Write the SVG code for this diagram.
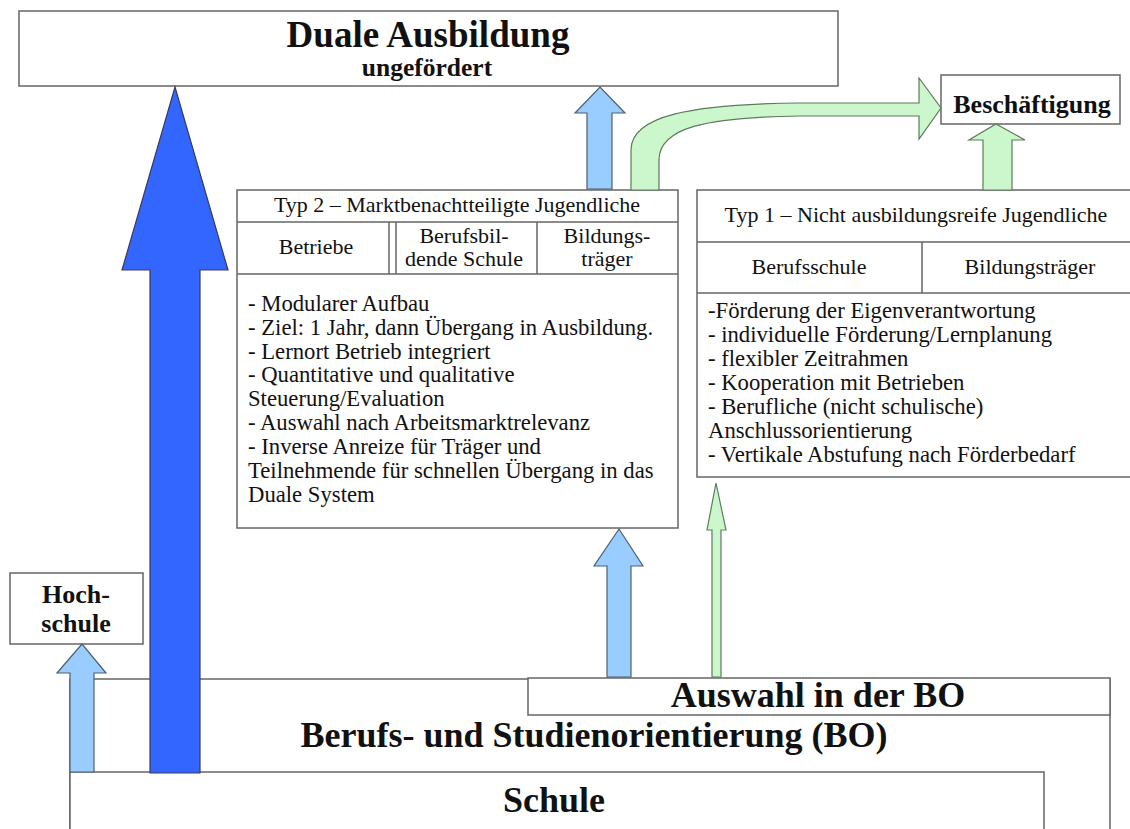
<svg xmlns="http://www.w3.org/2000/svg" width="1130" height="829" viewBox="0 0 1130 829">
<style>
text{font-family:"Liberation Serif","Times New Roman",serif;fill:#111}
.box{fill:#fff;stroke:#666;stroke-width:1.5}
.ln{stroke:#666;stroke-width:1.5;fill:none}
.b{font-weight:bold}
.c{text-anchor:middle}
.r{font-size:22px}
.t{font-size:22.7px}
.big{font-size:36px;font-weight:bold;text-anchor:middle}
.dk{fill:#3366ff;stroke:#3a3a5a;stroke-width:1.2}
.lb{fill:#99ccff;stroke:#4f5f70;stroke-width:1.2}
.lg{fill:#ccf7cc;stroke:#5d7a5d;stroke-width:1.2}
</style>
<rect width="1130" height="829" fill="#fff"/>

<g id="bo">
<rect class="box" x="70" y="679" width="1040" height="200"/>
<text class="big" x="594" y="747">Berufs- und Studienorientierung (BO)</text>
</g>
<g id="schule">
<rect class="box" x="70" y="772" width="974" height="100"/>
<text class="big" x="554" y="812">Schule</text>
</g>
<g id="auswahl">
<rect class="box" x="528" y="678" width="582" height="37"/>
<text class="big" x="818" y="707">Auswahl in der BO</text>
</g>

<g id="duale">
<rect class="box" x="19" y="11" width="819" height="75"/>
<text class="b c" x="428" y="47" font-size="37">Duale Ausbildung</text>
<text class="b c" x="427" y="76" font-size="25.5">ungefördert</text>
</g>

<g id="beschaeftigung">
<rect class="box" x="941" y="75" width="179" height="49"/>
<text class="b c" x="1032" y="113" font-size="26">Beschäftigung</text>
</g>

<g id="hochschule">
<rect class="box" x="10" y="573" width="133" height="71"/>
<text class="b c" x="76" y="603" font-size="26">Hoch-</text>
<text class="b c" x="76" y="632" font-size="26">schule</text>
</g>

<g id="typ2">
<rect class="box" x="237" y="190" width="441" height="338"/>
<line class="ln" x1="237" y1="222" x2="678" y2="222"/>
<line class="ln" x1="237" y1="274" x2="678" y2="274"/>
<line class="ln" x1="389" y1="222" x2="389" y2="274"/>
<line class="ln" x1="396" y1="222" x2="396" y2="274"/>
<line class="ln" x1="537" y1="222" x2="537" y2="274"/>
<text class="r c" x="457" y="212">Typ 2 – Marktbenachtteiligte Jugendliche</text>
<text class="r c" x="316" y="254">Betriebe</text>
<text class="r c" x="464" y="243">Berufsbil-</text>
<text class="r c" x="464" y="266">dende Schule</text>
<text class="r c" x="607" y="243">Bildungs-</text>
<text class="r c" x="607" y="266">träger</text>
<text class="t" x="248" y="311">- Modularer Aufbau</text>
<text class="t" x="248" y="335">- Ziel: 1 Jahr, dann Übergang in Ausbildung.</text>
<text class="t" x="248" y="359">- Lernort Betrieb integriert</text>
<text class="t" x="248" y="382">- Quantitative und qualitative</text>
<text class="t" x="248" y="406">Steuerung/Evaluation</text>
<text class="t" x="248" y="430">- Auswahl nach Arbeitsmarktrelevanz</text>
<text class="t" x="248" y="454">- Inverse Anreize für Träger und</text>
<text class="t" x="248" y="478">Teilnehmende für schnellen Übergang in das</text>
<text class="t" x="248" y="502">Duale System</text>
</g>

<g id="typ1">
<rect class="box" x="697" y="190" width="445" height="287"/>
<line class="ln" x1="697" y1="242" x2="1142" y2="242"/>
<line class="ln" x1="697" y1="293" x2="1142" y2="293"/>
<line class="ln" x1="922" y1="242" x2="922" y2="293"/>
<text class="r c" x="916" y="222">Typ 1 – Nicht ausbildungsreife Jugendliche</text>
<text class="r c" x="809" y="274">Berufsschule</text>
<text class="r c" x="1030" y="274">Bildungsträger</text>
<text class="t" x="708" y="318">-Förderung der Eigenverantwortung</text>
<text class="t" x="708" y="342">- individuelle Förderung/Lernplanung</text>
<text class="t" x="708" y="366">- flexibler Zeitrahmen</text>
<text class="t" x="708" y="390">- Kooperation mit Betrieben</text>
<text class="t" x="708" y="414">- Berufliche (nicht schulische)</text>
<text class="t" x="708" y="438">Anschlussorientierung</text>
<text class="t" x="708" y="462">- Vertikale Abstufung nach Förderbedarf</text>
</g>

<g id="connectors">
<path class="lb" d="M70,772 L70,673 L57,673 L82,644 L106,673 L94,673 L94,772 Z"/>
<path class="dk" d="M150,773 L150,270 L122,270 L175,87 L228,270 L200,270 L200,773 Z"/>
<path class="lb" d="M587,189 L587,113 L575,113 L600,87 L625,113 L612,113 L612,189 Z"/>
<path class="lb" d="M607,677 L607,566 L594,566 L619,529 L643,566 L631,566 L631,677 Z"/>
<path class="lg" d="M712,677 L712,530 L707,530 L716,483 L726,530 L721,530 L721,677 Z"/>
<path class="lg" d="M983,190 L983,140 L969,140 L996,124 L1025,140 L1012,140 L1012,190 Z"/>
<path class="lg" d="M631,190 L631,150 C631,116 690,104 800,103 L919,103 L919,78 L941,108 L919,139 L919,116 L800,116 C705,117 659,128 659,160 L659,190 Z"/>
</g>
</svg>
